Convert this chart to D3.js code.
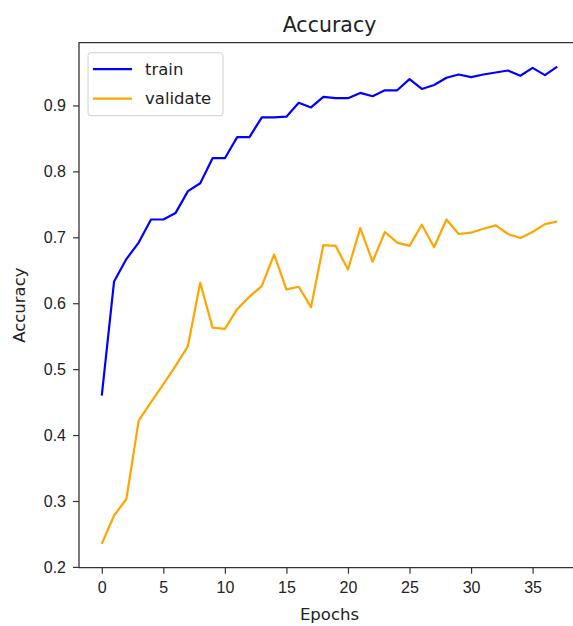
<!DOCTYPE html>
<html lang="en">
  <head>
    <meta charset="UTF-8" />
    <title>Accuracy</title>
    <style>
      body {
        margin: 0;
        background: white;
        overflow: hidden;
      }
      svg {
        display: block;
        font-family: "DejaVu Sans", sans-serif;
      }
      .line-path {
        fill: none;
        stroke-width: 2.2;
        stroke-linejoin: round;
      }
      .axis text {
        font-size: 16px;
        fill: #222;
      }
      .axis-label {
        font-size: 16.5px;
        fill: #222;
        text-anchor: middle;
      }
    </style>
  </head>
  <body>
    <script src="https://d3js.org/d3.v7.min.js"></script>
    <script>
      // accuracy per epoch
      const epochs = d3.range(38);
      const trainAcc = [
        0.46, 0.633, 0.667, 0.692, 0.727, 0.727, 0.737, 0.77, 0.782, 0.82,
        0.82, 0.852, 0.852, 0.882, 0.882, 0.883, 0.904, 0.897, 0.913, 0.911,
        0.911, 0.919, 0.914, 0.923, 0.923, 0.94, 0.925, 0.931, 0.942, 0.947,
        0.943, 0.947, 0.95, 0.953, 0.945, 0.957, 0.946, 0.959,
      ];
      const validateAcc = [
        0.235, 0.278, 0.303, 0.422, 0.45, 0.477, 0.505, 0.535, 0.631, 0.563,
        0.561, 0.591, 0.61, 0.626, 0.674, 0.621, 0.625, 0.594, 0.688, 0.687,
        0.651, 0.714, 0.663, 0.708, 0.692, 0.687, 0.719, 0.685, 0.727, 0.705,
        0.707, 0.713, 0.718, 0.705, 0.699, 0.708, 0.72, 0.724,
      ];
      const xTicks = [0, 5, 10, 15, 20, 25, 30, 35];
      const yTicks = [0.2, 0.3, 0.4, 0.5, 0.6, 0.7, 0.8, 0.9];
      const seriesNames = ["train", "validate"];
      const seriesColors = ["blue", "orange"];

      function makeChart() {
        const width = 573;
        const height = 626;
        // right edge of the axes sits past the cropped picture
        const plot = { left: 79, right: 580, top: 42.7, bottom: 567.7 };

        const svg = d3
          .select("body")
          .append("svg")
          .attr("width", width)
          .attr("height", height);

        // matplotlib style 5% margins around the data
        const xExt = d3.extent(epochs);
        const xPad = (xExt[1] - xExt[0]) * 0.05;
        const xScale = d3
          .scaleLinear()
          .domain([xExt[0] - xPad, xExt[1] + xPad])
          .range([plot.left, plot.right]);

        const yExt = d3.extent([...trainAcc, ...validateAcc]);
        const yPad = (yExt[1] - yExt[0]) * 0.05;
        const yScale = d3
          .scaleLinear()
          .domain([yExt[0] - yPad, yExt[1] + yPad])
          .range([plot.bottom, plot.top]);

        const series = [trainAcc, validateAcc].map((vals, i) => ({
          name: seriesNames[i],
          color: seriesColors[i],
          values: vals.map((v, j) => ({ epoch: epochs[j], value: v })),
        }));

        const line = d3
          .line()
          .x((d) => xScale(d.epoch))
          .y((d) => yScale(d.value));

        svg
          .append("g")
          .selectAll("path")
          .data(series)
          .join("path")
          .attr("class", "line-path")
          .attr("d", (d) => line(d.values))
          .style("stroke", (d) => d.color);

        // frame: top, left, bottom (right spine is cut off)
        svg
          .append("path")
          .attr(
            "d",
            `M${width},${plot.top}H${plot.left}V${plot.bottom}H${width}`
          )
          .attr("fill", "none")
          .attr("stroke", "#333")
          .attr("stroke-width", 1.3);

        const xAxis = svg
          .append("g")
          .attr("class", "axis")
          .attr("transform", `translate(0, ${plot.bottom})`)
          .call(
            d3.axisBottom(xScale).tickValues(xTicks).tickSize(6).tickPadding(8)
          );
        xAxis.select(".domain").remove();

        const yAxis = svg
          .append("g")
          .attr("class", "axis")
          .attr("transform", `translate(${plot.left}, 0)`)
          .call(
            d3
              .axisLeft(yScale)
              .tickValues(yTicks)
              .tickFormat(d3.format(".1f"))
              .tickSize(6)
              .tickPadding(7)
          );
        yAxis.select(".domain").remove();
        svg.selectAll(".axis line").attr("stroke", "#333").attr("stroke-width", 1.2);
        svg.selectAll(".axis text").attr("font-family", null);

        // title and axis labels
        svg
          .append("text")
          .attr("class", "axis-label")
          .attr("x", (plot.left + plot.right) / 2)
          .attr("y", 32)
          .style("font-size", "20.5px")
          .text("Accuracy");

        svg
          .append("text")
          .attr("class", "axis-label")
          .attr("x", (plot.left + plot.right) / 2)
          .attr("y", 620)
          .text("Epochs");

        svg
          .append("text")
          .attr("class", "axis-label")
          .attr("transform", "rotate(-90)")
          .attr("x", -(plot.top + plot.bottom) / 2)
          .attr("y", 25)
          .text("Accuracy");

        // legend
        const legend = svg
          .append("g")
          .attr("transform", `translate(${plot.left + 9}, ${plot.top + 10})`);

        legend
          .append("rect")
          .attr("width", 135)
          .attr("height", 63)
          .attr("rx", 3)
          .attr("fill", "white")
          .attr("fill-opacity", 0.8)
          .attr("stroke", "#d0d0d0");

        const item = legend
          .selectAll(".item")
          .data(series)
          .join("g")
          .attr("transform", (d, i) => `translate(0, ${16.5 + i * 29.5})`);

        item
          .append("line")
          .attr("x1", 5)
          .attr("x2", 44)
          .attr("stroke", (d) => d.color)
          .attr("stroke-width", 2.2);

        item
          .append("text")
          .attr("x", 57)
          .attr("dy", "0.35em")
          .style("font-size", "16.5px")
          .attr("fill", "#222")
          .text((d) => d.name);
      }

      makeChart();
    </script>
  </body>
</html>
